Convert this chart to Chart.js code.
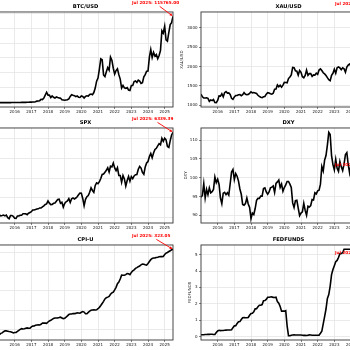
<!DOCTYPE html>
<html>
<head>
<meta charset="utf-8">
<script src="https://cdn.jsdelivr.net/npm/chart.js@4.4.1/dist/chart.umd.min.js"></script>
<style>
  html, body { margin: 0; padding: 0; background: #fff; }
  #board { position: relative; width: 350px; height: 350px; overflow: hidden; background: #fff; }
  #board canvas { position: absolute; }
</style>
</head>
<body>
<div id="board"></div>
<script>
// Monthly closes, Jan 2015 .. Jul 2025
const startYear = 2015
const lastMonthLabel = "Jul 2025"
const xTicks = [2016, 2017, 2018, 2019, 2020, 2021, 2022, 2023, 2024, 2025]

const btcUsd = [
  217, 254, 244, 236, 230, 263, 284, 230, 236, 314, 377, 430,
  368, 437, 416, 448, 531, 673, 624, 575, 609, 698, 742, 964,
  970, 1190, 1080, 1348, 2300, 2480, 2875, 4703, 4339, 6468, 10233, 14156,
  10221, 10397, 6973, 9240, 7494, 6404, 7780, 7037, 6625, 6318, 4017, 3742,
  3457, 3854, 4105, 5350, 8574, 10817, 10085, 9631, 8293, 9199, 7569, 7193,
  9350, 8599, 6438, 8658, 9461, 9137, 11323, 11681, 10784, 13781, 19713, 28990,
  33114, 45137, 58918, 57750, 37332, 35041, 41626, 47166, 43790, 61318, 57005, 46306,
  38483, 43193, 45538, 37714, 31792, 19784, 23336, 20050, 19423, 20495, 17168, 16548,
  23139, 23147, 28478, 29268, 27219, 30477, 29230, 25931, 26968, 34667, 37713, 42265,
  42582, 61198, 71334, 60637, 67491, 62678, 64619, 58969, 63329, 70215, 96450, 93429,
  102405, 84373, 82549, 94207, 104638, 107135, 115765
]
const btcTicks = [0, 20000, 40000, 60000, 80000, 100000, 120000]

const xauUsd = [
  1283, 1213, 1183, 1184, 1190, 1172, 1095, 1133, 1115, 1142, 1065, 1061,
  1118, 1238, 1233, 1292, 1215, 1322, 1351, 1309, 1316, 1276, 1173, 1146,
  1211, 1249, 1249, 1268, 1269, 1242, 1269, 1322, 1280, 1271, 1275, 1303,
  1345, 1318, 1325, 1315, 1299, 1253, 1224, 1201, 1192, 1215, 1222, 1282,
  1321, 1313, 1292, 1284, 1305, 1409, 1414, 1520, 1472, 1513, 1464, 1517,
  1589, 1585, 1577, 1687, 1730, 1781, 1975, 1968, 1886, 1879, 1777, 1898,
  1848, 1734, 1708, 1769, 1907, 1770, 1814, 1814, 1743, 1783, 1774, 1829,
  1797, 1909, 1937, 1897, 1838, 1807, 1766, 1711, 1660, 1633, 1768, 1824,
  1928, 1827, 1969, 1990, 1963, 1919, 1965, 1940, 1849, 1983, 2036, 2063,
  2039, 2044, 2230, 2286, 2327, 2326, 2447, 2503, 2635, 2744, 2643, 2625,
  2798, 2858, 3124, 3289, 3289, 3303, 3290
]
const xauTicks = [1000, 1500, 2000, 2500, 3000]

const spx = [
  1995, 2105, 2068, 2086, 2107, 2063, 2104, 1972, 1920, 2079, 2080, 2044,
  1940, 1932, 2060, 2065, 2097, 2099, 2174, 2171, 2168, 2126, 2199, 2239,
  2279, 2364, 2363, 2384, 2412, 2423, 2470, 2472, 2519, 2575, 2648, 2674,
  2824, 2714, 2641, 2648, 2705, 2718, 2816, 2902, 2914, 2712, 2760, 2507,
  2704, 2784, 2834, 2946, 2752, 2942, 2980, 2926, 2977, 3038, 3141, 3231,
  3226, 2954, 2585, 2912, 3044, 3100, 3271, 3500, 3363, 3270, 3622, 3756,
  3714, 3811, 3973, 4181, 4204, 4298, 4395, 4523, 4308, 4605, 4567, 4766,
  4516, 4374, 4530, 4132, 4132, 3785, 4130, 3955, 3586, 3872, 4080, 3840,
  4077, 3970, 4109, 4169, 4180, 4450, 4589, 4508, 4288, 4194, 4568, 4770,
  4846, 5096, 5254, 5036, 5278, 5460, 5522, 5648, 5762, 5705, 6032, 5882,
  6041, 5955, 5612, 5569, 5912, 6205, 6339.39
]
const spxTicks = [2000, 3000, 4000, 5000, 6000]

const dxy = [
  94.8, 95.3, 98.4, 94.6, 96.9, 95.5, 97.3, 96.0, 96.3, 96.9, 100.2, 98.7,
  99.6, 98.2, 94.6, 93.1, 95.9, 96.1, 95.5, 96.0, 95.4, 98.4, 101.5, 102.2,
  99.5, 101.1, 100.4, 99.1, 97.0, 95.6, 92.9, 92.7, 93.1, 94.6, 93.0, 92.1,
  89.1, 90.6, 90.2, 91.8, 94.0, 94.5, 94.5, 95.1, 95.1, 97.1, 97.3, 96.2,
  95.6, 96.2, 97.3, 97.5, 97.8, 96.1, 98.5, 98.9, 99.4, 97.4, 98.3, 96.4,
  97.4, 98.1, 99.0, 99.0, 98.3, 97.4, 93.3, 92.1, 93.9, 94.0, 91.9, 89.9,
  90.6, 90.9, 93.2, 91.3, 90.0, 92.4, 92.2, 92.6, 94.2, 94.1, 96.0, 95.7,
  96.5, 96.7, 98.3, 103.0, 101.8, 104.7, 105.9, 108.7, 112.1, 111.5, 105.9, 103.5,
  102.1, 104.9, 102.5, 101.7, 104.3, 102.9, 101.9, 103.6, 106.2, 106.7, 103.5, 101.3,
  103.3, 104.2, 104.5, 106.2, 104.7, 105.9, 104.1, 101.7, 100.8, 104.0, 105.7, 108.5,
  108.4, 107.6, 104.2, 99.5, 99.3, 96.9, 99.97
]
const dxyTicks = [90, 95, 100, 105, 110]

const cpiU = [
  233.71, 234.72, 236.12, 236.60, 237.81, 238.64, 238.65, 238.32, 237.95, 237.84, 237.34, 236.53,
  236.92, 237.11, 238.13, 239.26, 240.23, 241.02, 240.63, 240.85, 241.43, 241.73, 241.35, 241.43,
  242.84, 243.60, 243.80, 244.52, 244.73, 244.96, 244.79, 245.52, 246.82, 246.66, 246.67, 246.52,
  247.87, 248.99, 249.55, 250.55, 251.59, 251.99, 252.01, 252.15, 252.44, 252.89, 252.04, 251.23,
  251.71, 252.78, 254.20, 255.55, 256.09, 256.14, 256.57, 256.56, 256.76, 257.35, 257.21, 256.97,
  257.97, 258.68, 258.12, 256.39, 256.39, 257.80, 259.10, 259.92, 260.28, 260.39, 260.23, 260.47,
  261.58, 263.01, 264.88, 267.05, 269.20, 271.70, 273.00, 273.57, 274.31, 276.59, 277.95, 278.80,
  281.15, 283.72, 287.50, 289.11, 292.30, 296.31, 296.28, 296.17, 296.81, 298.01, 297.71, 296.80,
  299.17, 300.84, 301.84, 303.36, 304.13, 305.11, 305.69, 307.03, 307.79, 307.67, 307.05, 306.75,
  308.42, 310.33, 312.33, 313.55, 314.07, 314.18, 314.54, 314.80, 315.30, 315.66, 315.49, 315.61,
  317.67, 319.08, 319.80, 320.80, 321.47, 322.56, 323.048
]
const cpiTicks = [240, 260, 280, 300, 320]

const fedFunds = [
  0.11, 0.11, 0.11, 0.12, 0.12, 0.13, 0.13, 0.14, 0.14, 0.12, 0.12, 0.24,
  0.34, 0.38, 0.36, 0.37, 0.37, 0.38, 0.39, 0.40, 0.40, 0.40, 0.41, 0.54,
  0.65, 0.66, 0.79, 0.90, 0.91, 1.04, 1.15, 1.16, 1.15, 1.15, 1.16, 1.30,
  1.41, 1.42, 1.51, 1.69, 1.70, 1.82, 1.91, 1.91, 1.95, 2.19, 2.20, 2.27,
  2.40, 2.40, 2.41, 2.42, 2.39, 2.38, 2.40, 2.13, 2.04, 1.83, 1.55, 1.55,
  1.55, 1.58, 0.65, 0.05, 0.05, 0.08, 0.09, 0.10, 0.09, 0.09, 0.09, 0.09,
  0.09, 0.08, 0.07, 0.07, 0.06, 0.08, 0.10, 0.09, 0.08, 0.08, 0.08, 0.08,
  0.08, 0.08, 0.20, 0.33, 0.77, 1.21, 1.68, 2.33, 2.56, 3.08, 3.78, 4.10,
  4.33, 4.57, 4.65, 4.83, 5.06, 5.08, 5.12, 5.33, 5.33, 5.33, 5.33, 5.33,
  5.33, 5.33, 5.33, 5.33, 5.33, 5.33, 5.33, 5.33, 5.13, 4.83, 4.64, 4.48,
  4.33, 4.33, 4.33, 4.33, 4.33, 4.33, 4.33
]
const fedTicks = [0, 1, 2, 3, 4, 5]

// Layout
const panels = [
  { title: "BTC/USD", values: btcUsd, yTicks: btcTicks, col: 0, row: 0, yTitlePad: 12.5 },
  { title: "XAU/USD", values: xauUsd, yTicks: xauTicks, col: 1, row: 0, yTitlePad: 12.5 },
  { title: "SPX", values: spx, yTicks: spxTicks, col: 0, row: 1, yTitlePad: 12.5 },
  { title: "DXY", values: dxy, yTicks: dxyTicks, col: 1, row: 1, yTitlePad: 16.5 },
  { title: "CPI-U", values: cpiU, yTicks: cpiTicks, col: 0, row: 2, yTitlePad: 12.5 },
  { title: "FEDFUNDS", values: fedFunds, yTicks: fedTicks, col: 1, row: 2, yTitlePad: 20.5 },
]
const colLeft = [-36, 167]
const rowTop = [0, 116, 233]
const Y_AXIS_W = 34
const X_AXIS_H = 14
const PLOT_W = 175
const PLOT_H = 95
const TITLE_H = 12

const fontFamily = "'DejaVu Sans', sans-serif"
const gridColor = "#e4e4e4"
const tickColor = "#111"

// Frame around the plot area
const framePlugin = {
  id: "frame",
  afterDatasetsDraw(chart) {
    const { ctx, chartArea: a } = chart
    ctx.save()
    ctx.strokeStyle = "#333"
    ctx.lineWidth = 0.9
    ctx.strokeRect(a.left, a.top, a.right - a.left, a.bottom - a.top)
    ctx.restore()
  },
}

// Red "last value" annotation with arrow
const lastValuePlugin = {
  id: "lastValue",
  afterDraw(chart) {
    const meta = chart.getDatasetMeta(0)
    const pt = meta.data[meta.data.length - 1]
    const data = chart.data.datasets[0].data
    const last = data[data.length - 1].y
    const text = `${lastMonthLabel}: ${last.toFixed(2)}`
    const { ctx } = chart

    ctx.save()
    ctx.font = `bold 4.2px ${fontFamily}`
    ctx.fillStyle = "red"
    ctx.strokeStyle = "red"
    ctx.textBaseline = "middle"
    ctx.textAlign = "left"
    const tx = pt.x - 41
    const ty = pt.y - 13
    ctx.fillText(text, tx, ty)

    const w = ctx.measureText(text).width
    const h = 4.2
    const cx = tx + w / 2
    const cy = ty
    const dx = pt.x - cx
    const dy = pt.y - cy
    const t = Math.min((w / 2 + 1) / Math.abs(dx), (h / 2 + 1) / Math.abs(dy))
    const sx = cx + dx * t
    const sy = cy + dy * t
    const len = Math.hypot(pt.x - sx, pt.y - sy)
    const ux = (pt.x - sx) / len
    const uy = (pt.y - sy) / len
    const ex = pt.x - ux * 0.5
    const ey = pt.y - uy * 0.5

    ctx.lineWidth = 0.9
    ctx.beginPath()
    ctx.moveTo(sx, sy)
    ctx.lineTo(ex - ux * 2, ey - uy * 2)
    ctx.stroke()

    const hl = 3
    const hw = 1.4
    ctx.beginPath()
    ctx.moveTo(ex, ey)
    ctx.lineTo(ex - ux * hl - uy * hw, ey - uy * hl + ux * hw)
    ctx.lineTo(ex - ux * hl + uy * hw, ey - uy * hl - ux * hw)
    ctx.closePath()
    ctx.fill()
    ctx.restore()
  },
}

function makeChart(panel) {
  const canvas = document.createElement("canvas")
  canvas.width = Y_AXIS_W + PLOT_W + 10
  canvas.height = TITLE_H + PLOT_H + X_AXIS_H
  canvas.style.left = colLeft[panel.col] + "px"
  canvas.style.top = rowTop[panel.row] + "px"
  document.getElementById("board").appendChild(canvas)

  const points = panel.values.map((v, i) => ({ x: startYear + i / 12, y: v }))
  const lo = Math.min(...panel.values)
  const hi = Math.max(...panel.values)
  const margin = (hi - lo) * 0.05

  return new Chart(canvas.getContext("2d"), {
    type: "line",
    data: {
      datasets: [
        {
          data: points,
          borderColor: "#000",
          borderWidth: 1.6,
          pointRadius: 0,
          tension: 0,
          fill: false,
        },
      ],
    },
    options: {
      responsive: false,
      animation: false,
      devicePixelRatio: 1,
      layout: { padding: { left: 0, right: 10, top: 0, bottom: 0 } },
      plugins: {
        legend: { display: false },
        tooltip: { enabled: false },
        title: {
          display: true,
          text: panel.title,
          fullSize: false,
          color: "#000",
          font: { family: fontFamily, size: 5.2, weight: "bold", lineHeight: 1.15 },
          padding: { top: 4, bottom: 2 },
        },
      },
      scales: {
        x: {
          type: "linear",
          min: startYear,
          max: startYear + (panel.values.length - 1) / 12,
          afterBuildTicks: (scale) => {
            scale.ticks = xTicks.map((v) => ({ value: v }))
          },
          afterFit: (scale) => {
            scale.height = X_AXIS_H
          },
          ticks: {
            autoSkip: false,
            maxRotation: 0,
            padding: 1,
            color: tickColor,
            font: { family: fontFamily, size: 4 },
            callback: (v) => String(v),
          },
          grid: { color: gridColor, lineWidth: 0.8, tickLength: 2, tickColor: "#333", tickWidth: 0.6 },
          border: { display: false },
        },
        y: {
          min: lo - margin,
          max: hi + margin,
          afterBuildTicks: (scale) => {
            scale.ticks = panel.yTicks.map((v) => ({ value: v }))
          },
          afterFit: (scale) => {
            scale.width = Y_AXIS_W
          },
          ticks: {
            padding: 1.5,
            color: tickColor,
            font: { family: fontFamily, size: 4 },
            callback: (v) => String(v),
          },
          grid: { color: gridColor, lineWidth: 0.8, tickLength: 2, tickColor: "#333", tickWidth: 0.6 },
          border: { display: false },
          title: {
            display: true,
            text: panel.title,
            color: "#111",
            font: { family: fontFamily, size: 4 },
            padding: { top: panel.yTitlePad, bottom: 0 },
          },
        },
      },
    },
    plugins: [framePlugin, lastValuePlugin],
  })
}

panels.forEach(makeChart)
</script>
</body>
</html>
